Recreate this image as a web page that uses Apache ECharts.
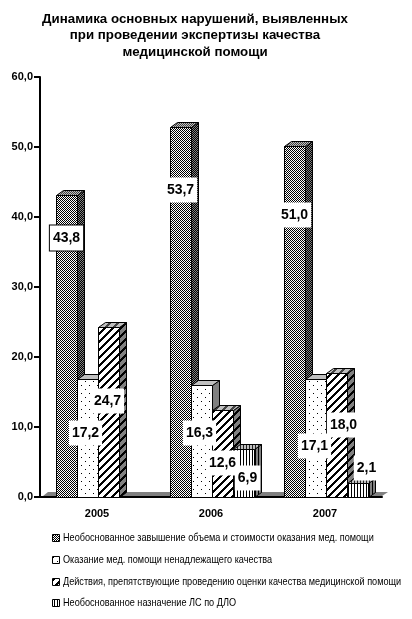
<!DOCTYPE html>
<html><head><meta charset="utf-8">
<style>html,body{margin:0;padding:0;background:#fff}#c{width:412px;height:619px}</style>
<script src="https://cdn.jsdelivr.net/npm/echarts@6/dist/echarts.min.js"></script>
</head><body><div id="c"></div>
<script>
const years = ['2005', '2006', '2007'];
const names = [
  'Необоснованное завышение объема и стоимости оказания мед. помощи',
  'Оказание мед. помощи ненадлежащего качества',
  'Действия, препятствующие проведению оценки качества медицинской помощи',
  'Необоснованное назначение ЛС по ДЛО'
];
const overcharge = [43.8, 53.7, 51.0];
const poorCare = [17.2, 16.3, 17.1];
const obstruction = [24.7, 12.6, 18.0];
const unjustified = [null, 6.9, 2.1];
const yTicks = ['0,0', '10,0', '20,0', '30,0', '40,0', '50,0', '60,0'];
const allValues = [overcharge, poorCare, obstruction, unjustified];

// label offsets from top-centre of each bar (layout only)
const labelShift = [
  [[0, 43], [0, 63], [0, 69]],
  [[-2, 54], [-2, 48], [-1, 67]],
  [[-1, 74], [0, 53], [7, 52]],
  [null, [4, 29], [9, -15]]
];

function pat(w, h, draw) {
  const c = document.createElement('canvas');
  c.width = w; c.height = h;
  const x = c.getContext('2d');
  x.fillStyle = '#fff'; x.fillRect(0, 0, w, h);
  x.fillStyle = '#000';
  draw(x);
  return { image: c, repeat: 'repeat' };
}
const checker = pat(2, 2, x => { x.fillRect(0, 0, 1, 1); x.fillRect(1, 1, 1, 1); });
const checkerDark = pat(2, 2, x => { x.fillStyle = '#000'; x.fillRect(0, 0, 2, 2); x.fillStyle = '#808080'; x.fillRect(0, 0, 1, 1); x.fillRect(1, 1, 1, 1); });
const checkerLight = pat(2, 2, x => { x.fillStyle = '#c0c0c0'; x.fillRect(0, 0, 2, 2); x.fillStyle = '#404040'; x.fillRect(0, 0, 1, 1); x.fillRect(1, 1, 1, 1); });
const dots = pat(8, 8, x => { x.fillRect(1, 1, 1, 1); x.fillRect(5, 5, 1, 1); });
function diagDraw(fg, bg) {
  return x => {
    x.fillStyle = bg; x.fillRect(0, 0, 8, 8); x.fillStyle = fg;
    for (let i = 0; i < 8; i++) for (let k = 0; k < 3; k++) x.fillRect(i, (7 - i + k) % 8, 1, 1);
  };
}
const diag = pat(8, 8, diagDraw('#000', '#fff'));
const diagSide = pat(8, 8, diagDraw('#000', '#808080'));
const diagTop = pat(8, 8, diagDraw('#444', '#c0c0c0'));
const stripes = pat(3, 1, x => { x.fillRect(0, 0, 1, 1); });
const stripesSide = pat(3, 1, x => { x.fillStyle = '#808080'; x.fillRect(0, 0, 3, 1); x.fillStyle = '#000'; x.fillRect(0, 0, 1, 1); });
const stripesTop = pat(3, 1, x => { x.fillStyle = '#c0c0c0'; x.fillRect(0, 0, 3, 1); x.fillStyle = '#222'; x.fillRect(0, 0, 1, 1); });

const faces = [
  { front: checker, top: checkerLight, side: checkerDark },
  { front: dots, top: '#c0c0c0', side: '#808080' },
  { front: diag, top: diagTop, side: diagSide },
  { front: stripes, top: stripesTop, side: stripesSide }
];

const BAR = 21, DEPTH_X = 7, DEPTH_Y = 5, LEAD = 16;

function barGeom(api, idx, s) {
  const c = api.coord([idx, api.value(1)]);
  const base = api.coord([idx, 0]);
  const band = api.size([1, 0])[0];
  const x = Math.round(c[0] - band / 2 + LEAD + s * BAR);
  return { x, top: Math.round(c[1]), base: Math.round(base[1]) };
}

const barSeries = allValues.map((vals, s) => ({
  type: 'custom',
  name: names[s],
  z: 3 + s,
  silent: true,
  xAxisIndex: 0,
  yAxisIndex: 1,
  clip: false,
  itemStyle: { color: faces[s].front, borderColor: '#000', borderWidth: 1 },
  data: vals.map((v, i) => [i, v]),
  encode: { x: 0, y: 1 },
  renderItem(params, api) {
    if (api.value(1) == null || isNaN(api.value(1))) return null;
    const g = barGeom(api, api.value(0), s);
    const l = g.x + 0.5, r = g.x + BAR + 0.5, t = g.top + 0.5, b = g.base + 0.5;
    const dx = DEPTH_X, dy = DEPTH_Y;
    const line = { stroke: '#000', lineWidth: 1 };
    return { type: 'group', children: [
      { type: 'polygon', shape: { points: [[r, t], [r + dx, t - dy], [r + dx, b - dy], [r, b]] }, style: { fill: faces[s].side, ...line } },
      { type: 'polygon', shape: { points: [[l, t], [l + dx, t - dy], [r + dx, t - dy], [r, t]] }, style: { fill: faces[s].top, ...line } },
      { type: 'rect', shape: { x: l, y: t, width: BAR, height: b - t }, style: { fill: faces[s].front, ...line } }
    ] };
  }
}));

const labelRows = [];
allValues.forEach((vals, s) => vals.forEach((v, i) => { if (v != null) labelRows.push([i, v, s]); }));

const labelSeries = {
  type: 'custom',
  z: 20,
  silent: true,
  xAxisIndex: 0,
  yAxisIndex: 1,
  clip: false,
  data: labelRows,
  encode: { x: 0, y: 1 },
  renderItem(params, api) {
    const i = api.value(0), s = api.value(2), v = api.value(1);
    const g = barGeom(api, i, s);
    const sh = labelShift[s][i];
    const boxed = s === 0 && i === 0;
    return {
      type: 'text',
      z2: 50,
      style: {
        x: g.x + BAR / 2 + sh[0], y: g.top + sh[1],
        text: v.toFixed(1).replace('.', ','),
        font: 'bold 14px "Liberation Sans"',
        fill: '#000', align: 'center', verticalAlign: 'middle',
        backgroundColor: '#fff', padding: [6, 3, 5, 3],
        borderColor: boxed ? '#000' : 'transparent', borderWidth: boxed ? 1 : 0
      }
    };
  }
};

const floorSeries = {
  type: 'custom',
  z: 2,
  silent: true,
  clip: false,
  data: [[0, 0]],
  encode: { x: 0, y: 1 },
  renderItem(params, api) {
    const cs = params.coordSys;
    const b = cs.y + cs.height - 1;
    return { type: 'polygon', shape: { points: [[cs.x + 3, b], [cs.x + 8, b - 4], [cs.x + cs.width + 6, b - 4], [cs.x + cs.width, b]] }, style: { fill: '#808080' } };
  }
};

const legendRowY = [538, 560, 582, 603];
const legendGraphics = [];
names.forEach((n, s) => {
  legendGraphics.push({ type: 'rect', silent: true, shape: { x: 52.5, y: legendRowY[s] - 3.5, width: 7, height: 7 }, style: { fill: faces[s].front, stroke: '#000', lineWidth: 1 } });
  legendGraphics.push({ type: 'text', silent: true, x: 63, y: legendRowY[s], scaleX: 0.83, style: { text: n, font: '11px "Liberation Sans"', fill: '#000', verticalAlign: 'middle' } });
});

const chart = echarts.init(document.getElementById('c'), null, { renderer: 'canvas' });
chart.setOption({
  animation: false,
  backgroundColor: '#fff',
  title: {
    text: 'Динамика основных нарушений, выявленных\nпри проведении экспертизы качества\nмедицинской помощи',
    left: 190, top: 6, textAlign: 'center',
    textStyle: { fontFamily: 'Liberation Sans', fontWeight: 'bold', fontSize: 13.3, lineHeight: 16.5, color: '#000' }
  },
  graphic: legendGraphics,
  grid: { left: 40, right: 30, top: 77, bottom: 122 },
  xAxis: {
    type: 'category', data: years,
    axisLine: { lineStyle: { color: '#000', width: 2 } },
    axisTick: { length: 6, lineStyle: { color: '#000', width: 2 } },
    axisLabel: { color: '#000', fontFamily: 'Liberation Sans', fontWeight: 'bold', fontSize: 11, margin: 11 }
  },
  yAxis: [{
    type: 'value', min: 0, max: 60, interval: 10,
    axisLine: { show: true, lineStyle: { color: '#000', width: 2 } },
    axisTick: { show: true, length: 6, lineStyle: { color: '#000', width: 2 } },
    splitLine: { show: false },
    axisLabel: { color: '#000', fontFamily: 'Liberation Sans', fontWeight: 'bold', fontSize: 11, margin: 7, formatter: v => yTicks[v / 10] }
  }, {
    type: 'value', min: 0, max: 61, show: false, splitLine: { show: false }
  }],
  series: [floorSeries, ...barSeries, labelSeries]
});
</script></body></html>
